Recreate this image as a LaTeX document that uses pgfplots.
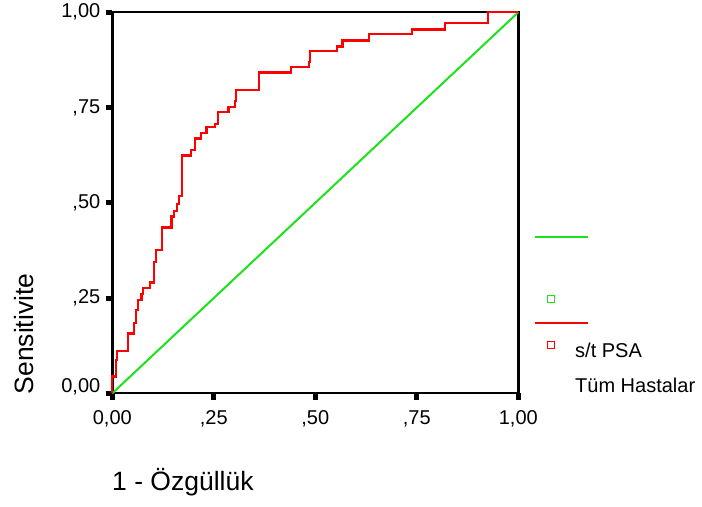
\documentclass[border=0pt]{standalone}
\usepackage{pgfplots}
\pgfplotsset{compat=1.18}
\usepackage{fontspec}
\setmainfont{Liberation Sans}
\definecolor{rocred}{RGB}{255,0,0}
\definecolor{refgreen}{RGB}{30,225,30}
\begin{document}
\begin{tikzpicture}
\useasboundingbox (0,0) rectangle (702bp,507bp);
% overlay axis in pixel units for labels and legend
\begin{axis}[
  at={(0bp,0bp)}, anchor=south west,
  width=702bp, height=507bp, scale only axis,
  xmin=0, xmax=702, ymin=0, ymax=507, y dir=reverse,
  hide axis, clip=false,
]
\addplot[refgreen, line width=1.8bp] coordinates {(535,237) (588,237)};
\addplot[rocred, line width=1.8bp] coordinates {(535,323) (588,323)};
\addplot[only marks, mark=square, mark size=3.6bp, refgreen, line width=1.6bp] coordinates {(551,299)};
\addplot[only marks, mark=square, mark size=3.6bp, rocred, line width=1.6bp] coordinates {(551,345)};
\node[anchor=base west, inner sep=0pt, font=\fontsize{20bp}{24bp}\selectfont] at (axis cs:575,357) {s/t PSA};
\node[anchor=base west, inner sep=0pt, font=\fontsize{20bp}{24bp}\selectfont] at (axis cs:575,392) {Tüm Hastalar};
\node[anchor=base west, inner sep=0pt, font=\fontsize{26.5bp}{30bp}\selectfont] at (axis cs:112,490) {1 - Özgüllük};
\node[anchor=base, rotate=90, inner sep=0pt, font=\fontsize{26.5bp}{30bp}\selectfont] at (axis cs:33,334) {Sensitivite};
\end{axis}
% main ROC axis
\begin{axis}[
  at={(112.3bp,113.7bp)}, anchor=south west,
  width=406bp, height=381bp, scale only axis,
  xmin=0, xmax=1, ymin=0, ymax=1,
  clip=false,
  axis line style={line width=2.4bp, black},
  xtick={0,0.25,0.5,0.75,1},
  ytick={0,0.25,0.5,0.75,1},
  xticklabels={{0,00},{,25},{,50},{,75},{1,00}},
  yticklabels={{\raisebox{7bp}[\height][\depth]{0,00}},{,25},{,50},{,75},{1,00}},
  xtick pos=bottom, ytick pos=left,
  tick align=outside,
  major tick length=6.5bp,
  tick style={line width=5bp, black},
  ticklabel style={font=\fontsize{20bp}{24bp}\selectfont},
  xticklabel style={yshift=-7bp},
  yticklabel style={xshift=-2bp},
]
\addplot[refgreen, line width=2bp] coordinates {(0,0) (1,1)};
\addplot[rocred, line width=2.2bp] coordinates {
(0,0) (0,0.044) (0.0083,0.044) (0.0083,0.087) (0.0123,0.087) (0.0123,0.112)
(0.039,0.112) (0.039,0.157) (0.054,0.157) (0.054,0.185) (0.058,0.185) (0.058,0.219)
(0.0625,0.219) (0.0625,0.245) (0.072,0.245) (0.072,0.260) (0.075,0.260) (0.075,0.276)
(0.093,0.276) (0.093,0.291) (0.103,0.291) (0.103,0.345) (0.108,0.345) (0.108,0.376)
(0.123,0.376) (0.123,0.435) (0.146,0.435) (0.146,0.464) (0.151,0.464) (0.151,0.479)
(0.160,0.479) (0.160,0.497) (0.165,0.497) (0.165,0.518) (0.171,0.518) (0.171,0.624)
(0.193,0.624) (0.193,0.639) (0.204,0.639) (0.204,0.669) (0.218,0.669) (0.218,0.684)
(0.232,0.684) (0.232,0.698) (0.253,0.698) (0.253,0.707) (0.261,0.707) (0.261,0.738)
(0.286,0.738) (0.286,0.752) (0.302,0.752) (0.302,0.768) (0.304,0.768) (0.304,0.796)
(0.362,0.796) (0.362,0.842) (0.440,0.842) (0.440,0.856) (0.484,0.856) (0.484,0.870)
(0.487,0.870) (0.487,0.899) (0.553,0.899) (0.553,0.910) (0.567,0.910) (0.567,0.926)
(0.632,0.926) (0.632,0.942) (0.739,0.942) (0.739,0.955) (0.819,0.955) (0.819,0.971)
(0.926,0.971) (0.926,1) (1,1)
};
\end{axis}
\end{tikzpicture}
\end{document}
